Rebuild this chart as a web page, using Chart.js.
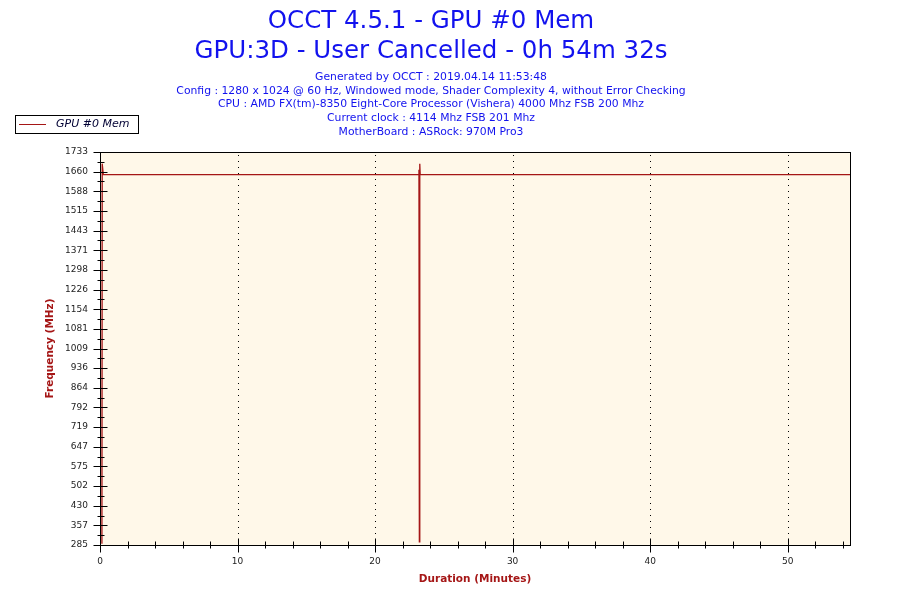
<!DOCTYPE html>
<html><head><meta charset="utf-8">
<script src="https://cdn.jsdelivr.net/npm/chart.js@4.4.0/dist/chart.umd.min.js"></script>
<style>html,body{margin:0;padding:0;background:#fff;}#wrap{width:900px;height:600px;position:relative;}</style>
</head><body><div id="wrap"><canvas id="c"></canvas></div>
<script>
const titleLines = ['OCCT 4.5.1 - GPU #0 Mem', 'GPU:3D - User Cancelled - 0h 54m 32s'];
const infoLines = [
  'Generated by OCCT : 2019.04.14 11:53:48',
  'Config : 1280 x 1024 @ 60 Hz, Windowed mode, Shader Complexity 4, without Error Checking',
  'CPU : AMD FX(tm)-8350 Eight-Core Processor (Vishera) 4000 Mhz FSB 200 Mhz',
  'Current clock : 4114 Mhz FSB 201 Mhz',
  'MotherBoard : ASRock: 970M Pro3'
];
const seriesName = 'GPU #0 Mem';
const xTitle = 'Duration (Minutes)';
const yTitle = 'Frequency (MHz)';
const timeMin = [0.14, 0.16, 0.24, 23.17, 23.19, 23.22, 23.25, 23.28, 54.53];
const freqMHz = [290, 1690, 1650, 1650, 1668, 297, 1690, 1650, 1650];
const xTickValues = [0, 10, 20, 30, 40, 50];
const yTickLabels = ['285','357','430','502','575','647','719','792','864','936','1009','1081','1154','1226','1298','1371','1443','1515','1588','1660','1733'];
const xMin = 0, xMax = 54.53, yMin = 285, yMax = 1733;

const FONT = "'DejaVu Sans', sans-serif";
const RED = '#A51616';
const BLUE = '#1212EE';

const framePlugin = {
  id: 'frame',
  beforeDatasetsDraw(chart) {
    const {ctx, chartArea: a, scales: {x}} = chart;
    ctx.save();
    ctx.fillStyle = '#FFF8E9';
    ctx.fillRect(a.left, a.top, a.right - a.left, a.bottom - a.top);
    ctx.strokeStyle = '#000';
    ctx.lineWidth = 1;
    ctx.setLineDash([1, 5]);
    xTickValues.forEach(v => {
      if (v === xMin) return;
      const px = Math.round(x.getPixelForValue(v)) + 0.5;
      ctx.beginPath(); ctx.moveTo(px, a.top + 3); ctx.lineTo(px, a.bottom); ctx.stroke();
    });
    ctx.restore();
  },
  afterDatasetsDraw(chart) {
    const {ctx, chartArea: a, scales: {x, y}} = chart;
    ctx.save();
    ctx.strokeStyle = '#000';
    ctx.lineWidth = 1;
    const L = Math.round(a.left) + 0.5, R = Math.round(a.right) + 0.5;
    const T = Math.round(a.top) + 0.5, B = Math.round(a.bottom) + 0.5;
    ctx.strokeRect(L, T, R - L, B - T);
    ctx.beginPath();
    const n = yTickLabels.length - 1;
    const step = (yMax - yMin) / n;
    for (let i = 0; i <= n; i++) {
      const py = Math.round(y.getPixelForValue(yMin + i * step)) + 0.5;
      ctx.moveTo(L - 7, py); ctx.lineTo(L + 7, py);
      if (i < n) {
        const pm = Math.round(y.getPixelForValue(yMin + (i + 0.5) * step)) + 0.5;
        ctx.moveTo(L - 3, pm); ctx.lineTo(L + 4, pm);
      }
    }
    for (let v = 0; v <= xMax; v += 2) {
      const px = Math.round(x.getPixelForValue(v)) + 0.5;
      if (v % 10 === 0) { ctx.moveTo(px, B - 7); ctx.lineTo(px, B + 7); }
      else { ctx.moveTo(px, B - 4); ctx.lineTo(px, B + 3); }
    }
    ctx.stroke();
    ctx.restore();
  },
  afterDraw(chart) {
    const {ctx} = chart;
    ctx.save();
    ctx.strokeStyle = '#000';
    ctx.lineWidth = 1;
    ctx.strokeRect(15.5, 115.5, 123, 18);
    ctx.strokeStyle = RED;
    ctx.beginPath(); ctx.moveTo(19, 124.5); ctx.lineTo(46, 124.5); ctx.stroke();
    ctx.fillStyle = '#000033';
    ctx.font = "italic 11px " + FONT;
    ctx.textBaseline = 'middle';
    ctx.textAlign = 'left';
    ctx.fillText(seriesName, 56, 124.5);
    ctx.restore();
  }
};

new Chart(document.getElementById('c'), {
  type: 'line',
  data: {
    datasets: [{
      label: seriesName,
      data: timeMin.map((t, i) => ({x: t, y: freqMHz[i]})),
      borderColor: RED,
      borderWidth: 1.3,
      pointRadius: 0,
      tension: 0,
      fill: false
    }]
  },
  options: {
    responsive: true,
    maintainAspectRatio: false,
    animation: false,
    devicePixelRatio: 1,
    layout: {padding: {left: 12, right: 50, top: 0, bottom: 0}},
    plugins: {
      legend: {display: false},
      tooltip: {enabled: false},
      title: {
        display: true, text: titleLines, color: BLUE,
        font: {family: FONT, size: 24.5, weight: 'normal', lineHeight: 30 / 24.5},
        padding: {top: 7, bottom: 3}
      },
      subtitle: {
        display: true, text: infoLines, color: BLUE,
        font: {family: FONT, size: 10.8, weight: 'normal', lineHeight: 13.8 / 10.8},
        padding: {top: 0, bottom: 13}
      }
    },
    scales: {
      x: {
        type: 'linear', min: xMin, max: xMax,
        grid: {display: false, drawTicks: false}, border: {display: false},
        afterBuildTicks: s => { s.ticks = xTickValues.map(v => ({value: v})); },
        afterFit: s => { s.height = 55; },
        ticks: {color: '#222', font: {family: FONT, size: 9}, padding: 11, maxRotation: 0, autoSkip: false},
        title: {display: true, text: xTitle, color: RED, font: {family: FONT, size: 10.5, weight: 'bold'}, padding: {top: 0, bottom: 14.5}}
      },
      y: {
        type: 'linear', min: yMin, max: yMax,
        grid: {display: false, drawTicks: false}, border: {display: false},
        afterBuildTicks: s => { const n = yTickLabels.length - 1; s.ticks = yTickLabels.map((l, i) => ({value: yMin + i * (yMax - yMin) / n})); },
        afterFit: s => { s.width = 88; },
        ticks: {color: '#222', font: {family: FONT, size: 9}, padding: 12, autoSkip: false, callback: (v, i) => yTickLabels[i]},
        title: {display: true, text: yTitle, color: RED, font: {family: FONT, size: 10.5, weight: 'bold'}, padding: {top: 32, bottom: 0}}
      }
    }
  },
  plugins: [framePlugin]
});
</script>
</body></html>
